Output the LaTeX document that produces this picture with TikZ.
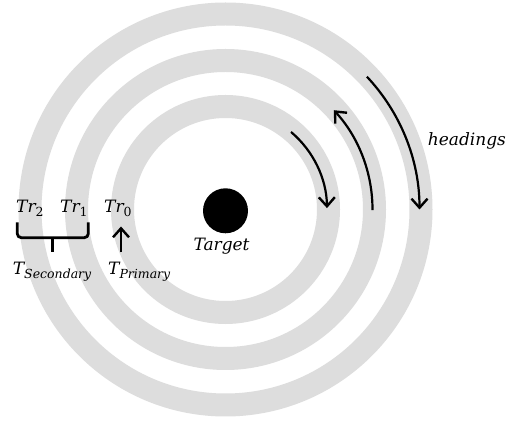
\documentclass[tikz,border=0pt]{standalone}
\usepackage{fontspec}
\setmainfont{DejaVu Serif}
\usetikzlibrary{arrows.meta}
\definecolor{ringgray}{RGB}{221,221,221}
\newcommand{\lowsub}[1]{\raisebox{-4pt}{\fontsize{12.5}{13}\selectfont #1}}
\begin{document}
\begin{tikzpicture}[x=1pt,y=1pt,
  ring/.style={draw=ringgray,line width=23pt},
  headarrow/.style={line width=2.2pt,-{Straight Barb[length=9pt,width=16pt,line width=2.4pt]}},
  bracestyle/.style={line width=2.8pt,rounded corners=4pt},
  lbl/.style={inner sep=0pt,anchor=base west,font=\fontsize{17}{20}\selectfont\itshape}]
\useasboundingbox[fill=white] (0,0) rectangle (509,423);
\coordinate (c) at (225.5,213.5);
\draw[ring] (c) circle[radius=103];
\draw[ring] (c) circle[radius=149];
\draw[ring] (c) circle[radius=195.5];
\node[circle,fill=black,minimum size=45pt,inner sep=0pt] (target) at (225.5,212.2) {};
% heading arrows
\draw[headarrow] ([shift={(49.8:101.5)}]c) arc[start angle=49.8,end angle=0.8,radius=101.5];
\draw[headarrow] ([shift={(-0.2:147)}]c) arc[start angle=-0.2,end angle=42.5,radius=147];
\draw[headarrow] ([shift={(43.2:194)}]c) arc[start angle=43.2,end angle=0,radius=194];
% labels
\node[lbl] (headings) at (427.7,277.3) {headings};
\node[lbl] (tr2) at (16,210.5) {Tr\lowsub{\upshape 2}};
\node[lbl] (tr1) at (60,210.5) {Tr\lowsub{\upshape 1}};
\node[lbl] (tr0) at (104,210.5) {Tr\lowsub{\upshape 0}};
\node[lbl] (tlabel) at (193.3,172.3) {Target};
\node[lbl] (tsec) at (12.7,148) {T\lowsub{Secondary}};
\node[lbl] (tprim) at (108,148) {T\lowsub{Primary}};
% brace
\coordinate (bl) at (17.3,200.7);
\coordinate (br) at (88.3,200.7);
\coordinate (bm) at (52.3,185.3);
\coordinate (bs) at (52.3,170.7);
\draw[bracestyle] (bl) -- (bl |- bm) -- (br |- bm) -- (br);
\draw[line width=3.6pt] ([yshift=1pt]bm) -- (bs);
% primary arrow
\coordinate (pa) at (121,170.7);
\coordinate (pb) at (121,196.5);
\draw[headarrow] (pa) -- (pb);
\end{tikzpicture}
\end{document}
